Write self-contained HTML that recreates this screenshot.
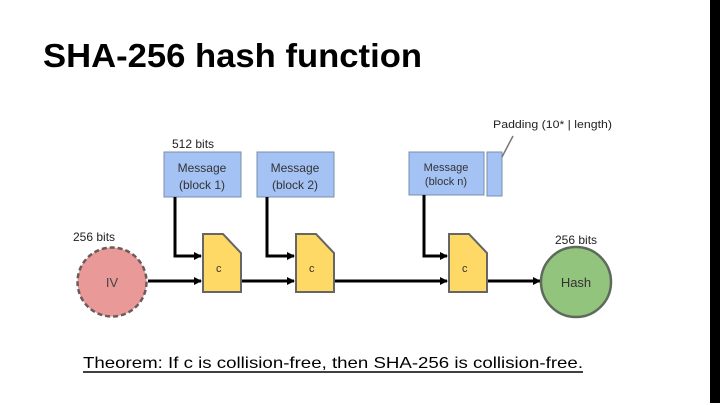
<!DOCTYPE html>
<html><head><meta charset="utf-8"><style>
html,body{margin:0;padding:0;background:#fff;}
svg{display:block;}
text{font-family:"Liberation Sans","DejaVu Sans",sans-serif;}
</style></head><body>
<svg width="720" height="405" viewBox="0 0 720 405" xmlns="http://www.w3.org/2000/svg">
<defs>
<marker id="a" markerWidth="8" markerHeight="8" refX="7" refY="4" orient="auto" markerUnits="userSpaceOnUse">
<path d="M0,0 L8,4 L0,8 Z" fill="#000"/></marker>
</defs>
<rect x="710" y="0" width="10" height="403" fill="#000"/>
<text x="43" y="67" font-size="33" font-weight="bold" textLength="379" lengthAdjust="spacingAndGlyphs">SHA-256 hash function</text>

<rect x="164" y="152" width="77" height="45" fill="#a4c2f4" stroke="#7a8fae" stroke-width="1"/>
<text x="202" y="172" font-size="12" text-anchor="middle" fill="#333">Message</text>
<text x="202" y="189" font-size="12" text-anchor="middle" fill="#333">(block 1)</text>
<rect x="257" y="152" width="77" height="45" fill="#a4c2f4" stroke="#7a8fae" stroke-width="1"/>
<text x="295" y="172" font-size="12" text-anchor="middle" fill="#333">Message</text>
<text x="295" y="189" font-size="12" text-anchor="middle" fill="#333">(block 2)</text>
<rect x="409" y="152" width="75" height="43" fill="#a4c2f4" stroke="#7a8fae" stroke-width="1"/>
<text x="446" y="171" font-size="11" text-anchor="middle" fill="#333">Message</text>
<text x="446" y="185" font-size="11" text-anchor="middle" fill="#333">(block n)</text>
<rect x="487" y="152" width="15" height="44" fill="#a4c2f4" stroke="#7a8fae" stroke-width="1"/>
<line x1="502" y1="157" x2="513" y2="136" stroke="#777" stroke-width="1.5"/>
<text x="493" y="128" font-size="11" fill="#222" textLength="119" lengthAdjust="spacingAndGlyphs">Padding (10* | length)</text>
<text x="172" y="148" font-size="12" fill="#222">512 bits</text>
<text x="73" y="241" font-size="12" fill="#222">256 bits</text>
<text x="555" y="244" font-size="12" fill="#222">256 bits</text>

<g stroke="#000" stroke-width="3" fill="none">
<polyline points="175,197 175,256 201,256" marker-end="url(#a)"/>
<polyline points="267,197 267,256 294,256" marker-end="url(#a)"/>
<polyline points="424,195 424,256 447,256" marker-end="url(#a)"/>
<line x1="148" y1="281" x2="201" y2="281" marker-end="url(#a)"/>
<line x1="241" y1="281" x2="294" y2="281" marker-end="url(#a)"/>
<line x1="334" y1="281" x2="447" y2="281" marker-end="url(#a)"/>
<line x1="487" y1="281" x2="540" y2="281" marker-end="url(#a)"/>
</g>

<g fill="#ffd966" stroke="#666" stroke-width="2">
<path d="M203,234 L223,234 L241,253 L241,292 L203,292 Z"/>
<path d="M296,234 L316,234 L334,253 L334,292 L296,292 Z"/>
<path d="M449,234 L469,234 L487,253 L487,292 L449,292 Z"/>
</g>
<text x="216" y="272" font-size="11" fill="#333">c</text>
<text x="309" y="272" font-size="11" fill="#333">c</text>
<text x="462" y="272" font-size="11" fill="#333">c</text>

<circle cx="112" cy="282" r="34.5" fill="#ea9999" stroke="#6b5b5b" stroke-width="2.5" stroke-dasharray="5,3"/>
<text x="112" y="287" font-size="13" text-anchor="middle" fill="#444">IV</text>
<circle cx="576" cy="282" r="35" fill="#93c47d" stroke="#5f6b5a" stroke-width="2.5"/>
<text x="576" y="287" font-size="13" text-anchor="middle" fill="#333">Hash</text>

<text x="83" y="368" font-size="16" textLength="500" lengthAdjust="spacingAndGlyphs" fill="#000">Theorem: If c is collision-free, then SHA-256 is collision-free.</text>
<line x1="83" y1="372" x2="583" y2="372" stroke="#000" stroke-width="1.5"/>
</svg>
</body></html>
